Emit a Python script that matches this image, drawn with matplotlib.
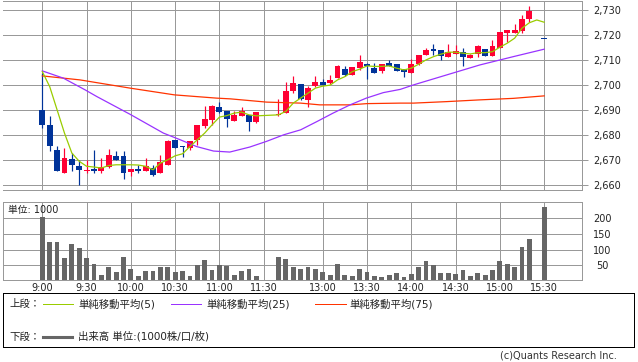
import numpy as np
import matplotlib
matplotlib.use('Agg')
import matplotlib.pyplot as plt
from matplotlib.lines import Line2D
from matplotlib.patches import Rectangle

plt.rcParams['font.family'] = ['DejaVu Sans', 'Noto Sans CJK JP']

# ---- data (slot index = 5-minute bar; 9:00 = 0, 12:30 = 32, 15:30 = 68) ----
nan = np.nan
opens = [2690, 2684, 2674, 2665, 2670.5, 2667.5, 2665.5, 2666.5, 2665.7, 2667.3,
         2671.5, 2671.7, 2665.4, 2666.5, 2665.8, 2667, 2665, 2668, 2678, 2675.5,
         2675, 2678, 2683.5, 2686, 2691.4, 2689.7, 2685.8, 2687.8, 2688, 2685.4,
         nan, nan, 2688, 2689, 2697.8, 2700.5, 2694, 2699.5, 2701.3, 2701,
         2703, 2706.4, 2704.1, 2707, 2708.4, 2706.8, 2705.5, 2708.7, 2708.5, 2706.4,
         2705, 2708.4, 2712, 2714.4, 2714, 2711.4, 2712.4, 2713.4, 2711, 2712.4,
         2714.4, 2711.8, 2715, 2721, 2720.8, 2721.7, 2726.4, nan, 2718.5]
highs = [2705, 2687.5, 2675.5, 2675, 2673, 2670, 2670, 2674, 2671, 2674.5,
         2673.5, 2673.5, 2666.5, 2668, 2670.8, 2668, 2672, 2678, 2678, 2675.5,
         2677.7, 2684, 2691.5, 2692, 2693.4, 2689.7, 2689.7, 2691.2, 2688, 2689.2,
         nan, nan, 2694.4, 2701.2, 2703.5, 2700.5, 2699.5, 2703.5, 2702.4, 2704,
         2708, 2707.5, 2707.2, 2712, 2709, 2709, 2708.5, 2710, 2708.5, 2706.5,
         2710.4, 2712.1, 2715, 2716.3, 2714.1, 2716.5, 2716, 2714.8, 2712.5, 2716,
         2714.4, 2718, 2721.3, 2722.1, 2724.5, 2728.1, 2731.7, nan, 2718.5]
lows = [2683, 2673.5, 2665.5, 2665, 2665.5, 2660, 2665, 2665, 2665, 2667,
        2670, 2662.5, 2663.5, 2664.8, 2665.8, 2663.5, 2665, 2668, 2675, 2671.2,
        2674, 2676, 2683, 2684, 2689, 2683.4, 2685.8, 2687.5, 2681.8, 2685,
        nan, nan, 2687.7, 2689, 2697, 2694, 2691.4, 2699.4, 2700, 2700.5,
        2703, 2703.5, 2704, 2706, 2702.4, 2705, 2705, 2707.8, 2705.5, 2703.2,
        2705, 2708, 2712, 2712, 2710, 2711.4, 2712.4, 2707.8, 2711, 2711.2,
        2711.8, 2711.8, 2715, 2717.2, 2720.8, 2721, 2725.4, nan, 2718.3]
closes = [2684, 2675.5, 2665.5, 2671, 2668, 2666, 2666.2, 2665.5, 2667.3, 2672,
          2670, 2665, 2666.5, 2665.8, 2667.7, 2664, 2669.3, 2677.5, 2675, 2675.2,
          2677.7, 2684, 2686.5, 2691.7, 2689.4, 2686.4, 2688.1, 2689.7, 2685.4, 2689.2,
          nan, nan, 2688.5, 2697.7, 2700.8, 2694.5, 2699, 2701.3, 2700.1, 2702,
          2707.7, 2704.1, 2707.1, 2709.2, 2707.5, 2705, 2708.5, 2707.8, 2705.7, 2705.2,
          2708.5, 2712.1, 2714, 2713.7, 2711.8, 2713.2, 2713.7, 2711.4, 2712.1, 2715.5,
          2711.8, 2715.7, 2721.3, 2722.1, 2722.1, 2726.5, 2729.7, nan, 2718.3]
volumes = [203, 124, 124, 74, 118, 106, 74, 54, 19, 43,
           30, 77, 38, 17, 32, 32, 45, 45, 30, 32,
           17, 51, 67, 35, 51, 48, 19, 32, 38, 17,
           3, nan, 78, 70, 46, 38, 43, 38, 27, 19,
           54, 19, 16, 38, 29, 16, 13, 19, 26, 13,
           22, 43, 64, 50, 26, 26, 22, 35, 16, 26,
           19, 35, 64, 54, 46, 108, 134, nan, 236]

ma5_slots = list(range(0, 30)) + list(range(32, 69))
ma5_vals = [2705.4, 2699.4, 2690.1, 2680.8, 2672.8, 2669.5, 2667.5, 2667.2, 2666.8, 2667.8,
            2668.1, 2668.1, 2668.1, 2668, 2667.5, 2666.1, 2668.8, 2670.1, 2671.7, 2672.5,
            2675.4, 2678.1, 2680.8, 2684.1, 2687.2, 2687.8, 2688.8, 2689.2, 2688.1, 2687.7,
            2688.1, 2689.5, 2692.8, 2694.8, 2696.8, 2698.8, 2699.6, 2700, 2702.1, 2703.4,
            2705.4, 2706.4, 2707.7, 2707.5, 2707.5, 2707.7, 2706.8, 2706.1, 2706.8, 2708.4,
            2710.1, 2711.4, 2712.4, 2713.2, 2713.2, 2712.8, 2712.5, 2713, 2713, 2713.4,
            2715.2, 2716.8, 2718.8, 2722.8, 2725, 2726.1, 2725.2]
ma25_slots = [0, 2.85, 5.8, 7.4, 11.9, 16.4, 18.7, 20.9, 23.2, 25.4, 28.1, 30.4, 32.7,
              35, 37.2, 39.4, 41.7, 43.9, 46.2, 48.5, 50.3, 54.8, 59.3, 63.8, 68]
ma25_vals = [2705.7, 2702.8, 2698.1, 2695.4, 2688.3, 2680.8, 2678.1, 2675.4, 2673.6,
             2673.2, 2675.2, 2677.5, 2680.1, 2682.1, 2685.4, 2688.8, 2692.1, 2694.8,
             2697, 2698.3, 2700.1, 2704.1, 2708.1, 2711.4, 2714.4]
ma75_slots = [0, 5.1, 11.9, 17.9, 23.6, 25.5, 30.4, 35, 37.6, 41.7, 44, 48.5, 50.3,
              54.8, 59.3, 63.8, 68]
ma75_vals = [2703.7, 2702.1, 2698.8, 2696.1, 2694.8, 2694.5, 2693.2, 2692.8, 2692.1,
             2692.1, 2692.6, 2692.8, 2692.8, 2693.4, 2694.1, 2694.7, 2695.7]

time_slots = [0, 6, 12, 18, 24, 30, 38, 44, 50, 56, 62, 68]
time_labels = ['9:00', '9:30', '10:00', '10:30', '11:00', '11:30',
               '13:00', '13:30', '14:00', '14:30', '15:00', '15:30']
price_ticks = [2660, 2670, 2680, 2690, 2700, 2710, 2720, 2730]
vol_ticks = [50, 100, 150, 200]

# ---- styling ----
RED = '#FF0033'
BLUE = '#003399'
GRID = '#999999'
VOLC = '#666666'
C5 = '#99CC00'
C25 = '#9933FF'
C75 = '#FF3300'
TXT = '#222222'
FS = 7
PX = 0.72  # one pixel in points at 100 dpi

W, H = 638, 362
fig = plt.figure(figsize=(W / 100, H / 100), dpi=100)

L, R = 3, 582.3
ax = fig.add_axes([L / W, 1 - 190 / H, (R - L) / W, 189 / H])
axv = fig.add_axes([L / W, 1 - 280 / H, (R - L) / W, 78.3 / H])

xlim = (-5.33, 73.17)

for a in (ax, axv):
    a.set_xlim(*xlim)
    a.set_xticks(time_slots)
    for xs in time_slots:
        a.axvline(xs, color=GRID, lw=PX, zorder=0.5, antialiased=False)
    for s in a.spines.values():
        s.set_color(GRID)
        s.set_linewidth(PX)

# main chart
ax.set_ylim(2658, 2733.7)
ax.set_yticks(price_ticks)
ax.set_yticklabels([f'{v:,}' for v in price_ticks])
ax.yaxis.tick_right()
ax.tick_params(axis='y', length=6 * PX, width=PX, color=GRID, pad=3.4, labelsize=FS,
               labelcolor=TXT)
ax.tick_params(axis='x', length=0, labelbottom=False)
for v in price_ticks:
    ax.axhline(v, color=GRID, lw=PX, zorder=0.5, antialiased=False)
ax.spines['left'].set_visible(False)

x = np.arange(len(opens))
o = np.array(opens, float); h = np.array(highs, float)
l = np.array(lows, float); c = np.array(closes, float)
valid = ~np.isnan(o)
up = c >= o
cols = np.where(up, RED, BLUE)
bottoms = np.minimum(o, c)
heights = np.maximum(np.abs(c - o), 0.45)
ax.vlines(x[valid], l[valid], h[valid], colors=cols[valid], lw=PX * 1.2, zorder=2)
ax.bar(x[valid], heights[valid], bottom=bottoms[valid], width=0.8, color=cols[valid],
       linewidth=0, zorder=3)

ax.plot(ma75_slots, ma75_vals, color=C75, lw=0.9, zorder=4)
ax.plot(ma25_slots, ma25_vals, color=C25, lw=0.9, zorder=4)
ax.plot(ma5_slots, ma5_vals, color=C5, lw=0.9, zorder=4)

# volume
vol = np.array(volumes, float)
vv = ~np.isnan(vol)
axv.bar(x[vv], vol[vv], width=0.65, color=VOLC, linewidth=0, zorder=3)
axv.set_ylim(3, 253)
axv.set_yticks(vol_ticks)
axv.yaxis.tick_right()
for v in vol_ticks:
    axv.axhline(v, color=GRID, lw=PX, zorder=0.5, antialiased=False)
axv.tick_params(axis='y', length=0, pad=14.4, labelsize=FS, labelcolor=TXT)
for t in axv.get_yticklabels():
    t.set_horizontalalignment('center')
axv.set_xticklabels(time_labels)
axv.tick_params(axis='x', length=0, pad=2.0, labelsize=FS, labelcolor=TXT)
axv.text(5.3 / (R - L), 0.89, '単位: 1000', transform=axv.transAxes, fontsize=FS,
         color=TXT, ha='left', va='center', zorder=5)

# legend box
def fxp(px):
    return px / W

def fyp(py):
    return 1 - py / H

fig.patches.append(Rectangle((fxp(3.3), fyp(346.7)), fxp(634 - 3.3), (346.7 - 293.3) / H,
                             transform=fig.transFigure, fill=False, edgecolor='black',
                             linewidth=PX, antialiased=False))
LFS = 7.5
y1, y2 = 304, 336.5
fig.text(fxp(9), fyp(y1), '上段：', fontsize=LFS, color=TXT, ha='left', va='center')
fig.text(fxp(9), fyp(y2), '下段：', fontsize=LFS, color=TXT, ha='left', va='center')
for (x0, x1, col, lw, tx, label) in [
        (42.7, 73, C5, PX, 78, '単純移動平均(5)'),
        (171, 201, C25, PX, 206.5, '単純移動平均(25)'),
        (315, 345.5, C75, PX, 349.6, '単純移動平均(75)')]:
    fig.add_artist(Line2D([fxp(x0), fxp(x1)], [fyp(y1), fyp(y1)], color=col, lw=lw,
                          transform=fig.transFigure))
    fig.text(fxp(tx), fyp(y1), label, fontsize=LFS, color=TXT, ha='left', va='center')
fig.add_artist(Line2D([fxp(42.7), fxp(72.4)], [fyp(y2), fyp(y2)], color=VOLC, lw=2.2,
                      transform=fig.transFigure))
fig.text(fxp(78), fyp(y2), '出来高 単位:(1000株/口/枚)', fontsize=LFS, color=TXT,
         ha='left', va='center')

fig.text(fxp(617), fyp(356), '(c)Quants Research Inc.', fontsize=FS, color='#333333',
         ha='right', va='center')

fig.savefig('out.png', dpi=100)
